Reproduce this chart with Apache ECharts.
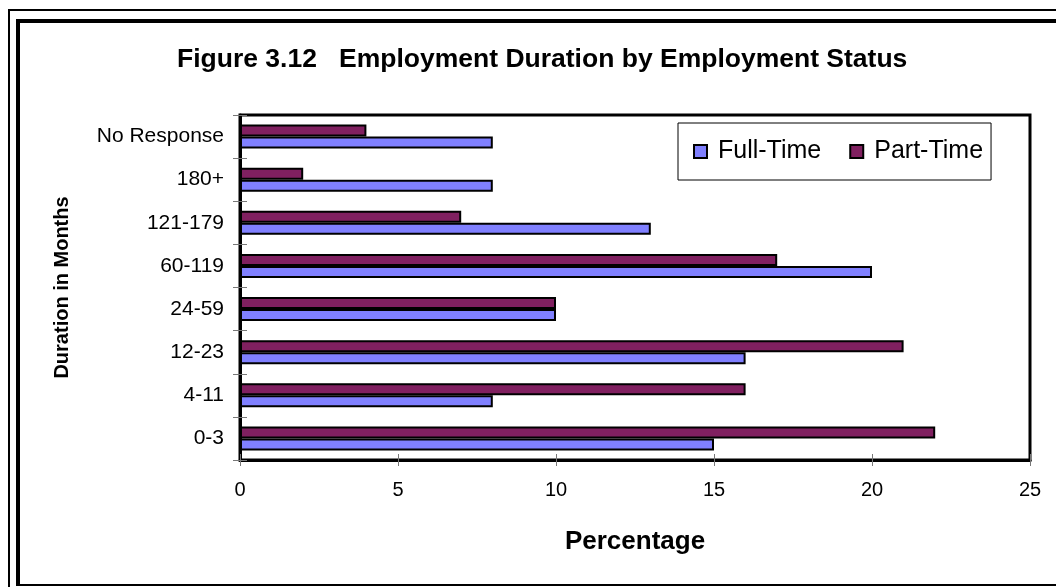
<!DOCTYPE html>
<html>
<head>
<meta charset="utf-8">
<title>Employment Duration by Employment Status</title>
<script src="https://cdn.jsdelivr.net/npm/echarts@6/dist/echarts.min.js"></script>
<style>
  html, body { margin: 0; padding: 0; background: #fff; overflow: hidden; }
  #frame1 { position: absolute; left: 8px; top: 9px; width: 1100px; height: 600px; border: 2px solid #000; }
  #frame2 { position: absolute; left: 16px; top: 19px; width: 1100px; height: 561px; border: 4px solid #000; border-bottom-width: 2px; }
  #main { position: absolute; left: 0; top: 0; width: 1056px; height: 587px; }
</style>
</head>
<body>
<div id="frame1"></div>
<div id="frame2"></div>
<div id="main"></div>
<script>
// categories from bottom to top
var categories = ['0-3', '4-11', '12-23', '24-59', '60-119', '121-179', '180+', 'No Response']
var fullTime = [15, 8, 16, 10, 20, 13, 8, 8]
var partTime = [22, 16, 21, 10, 17, 7, 2, 4]
var xTicks = [0, 5, 10, 15, 20, 25]

var font = 'Liberation Sans, Arial, sans-serif'

var option = {
  animation: false,
  backgroundColor: 'transparent',
  title: {
    text: 'Figure 3.12   Employment Duration by Employment Status',
    left: 172,
    top: 41,
    textStyle: {
      fontFamily: font,
      fontSize: 26.5,
      fontWeight: 'bold',
      color: '#000'
    }
  },
  legend: {
    data: ['Full-Time', 'Part-Time'],
    left: 678,
    top: 123,
    padding: [16, 8, 16, 15],
    itemGap: 28,
    itemWidth: 13,
    itemHeight: 13,
    icon: 'rect',
    borderColor: '#000',
    borderWidth: 1,
    textStyle: {
      fontFamily: font,
      fontSize: 25,
      color: '#000',
      padding: [0, 0, 0, 6]
    }
  },
  grid: {
    left: 240,
    top: 115,
    right: 26,
    bottom: 127,
    show: true,
    borderColor: '#000',
    borderWidth: 3
  },
  xAxis: [{
    type: 'value',
    min: xTicks[0],
    max: xTicks[xTicks.length - 1],
    interval: 5,
    name: 'Percentage',
    nameLocation: 'middle',
    nameGap: 69,
    nameTextStyle: {
      fontFamily: font,
      fontSize: 26,
      fontWeight: 'bold',
      color: '#000'
    },
    axisLine: { show: true, lineStyle: { color: '#000', width: 3 } },
    axisTick: { show: true, length: 6, lineStyle: { color: '#777' } },
    axisLabel: { fontFamily: font, fontSize: 20, color: '#000', margin: 20 },
    splitLine: { show: false }
  }, {
    // inside half of the crossing ticks
    type: 'value',
    position: 'bottom',
    min: xTicks[0],
    max: xTicks[xTicks.length - 1],
    interval: 5,
    axisLine: { show: false },
    axisTick: { show: true, inside: true, length: 6, lineStyle: { color: '#777' } },
    axisLabel: { show: false },
    splitLine: { show: false }
  }],
  yAxis: [{
    type: 'category',
    data: categories,
    name: 'Duration in Months',
    nameLocation: 'middle',
    nameGap: 168,
    nameRotate: 90,
    nameTextStyle: {
      fontFamily: font,
      fontSize: 20,
      fontWeight: 'bold',
      color: '#000'
    },
    axisLine: { show: true, lineStyle: { color: '#000', width: 3 } },
    axisTick: { show: true, length: 7, lineStyle: { color: '#777' } },
    axisLabel: { fontFamily: font, fontSize: 21, color: '#000', margin: 16 }
  }, {
    type: 'category',
    data: categories,
    position: 'left',
    axisLine: { show: false },
    axisTick: { show: true, inside: true, length: 7, lineStyle: { color: '#777' } },
    axisLabel: { show: false }
  }],
  // part-time first so it sits above full-time inside each band
  series: [{
    name: 'Part-Time',
    type: 'bar',
    barWidth: 12,
    barGap: '0%',
    itemStyle: {
      color: '#802060',
      borderColor: '#000',
      borderWidth: 2
    },
    data: partTime
  }, {
    name: 'Full-Time',
    type: 'bar',
    barWidth: 12,
    barGap: '0%',
    itemStyle: {
      color: '#8080FF',
      borderColor: '#000',
      borderWidth: 2
    },
    data: fullTime
  }]
}

var chart = echarts.init(document.getElementById('main'), null, { renderer: 'canvas' })
chart.setOption(option)
</script>
</body>
</html>
